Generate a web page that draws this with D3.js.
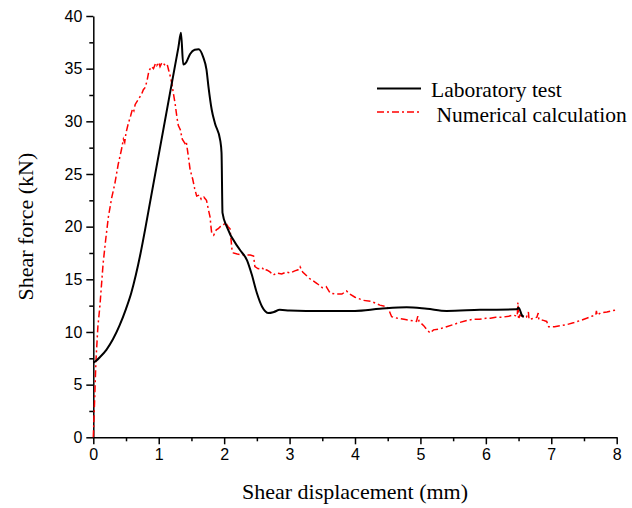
<!DOCTYPE html>
<html>
<head>
<meta charset="utf-8">
<script src="https://cdn.jsdelivr.net/npm/d3@7"></script>
<style>
body { margin: 0; background: #fff; }
</style>
</head>
<body>
<script>
// laboratory test: [displacement mm, force kN]
var labX = [0, 0.05, 0.1, 0.2, 0.3, 0.4, 0.5, 0.58, 0.65, 0.72, 0.8, 0.87, 1.02, 1.17, 1.3, 1.34,
	1.375, 1.42, 1.48, 1.55, 1.61, 1.68, 1.73, 1.76, 1.81, 1.86, 1.94, 1.96, 1.975, 2.04, 2.24, 2.35,
	2.42, 2.5, 2.58, 2.68, 2.76, 2.85, 3.0, 3.5, 4.0, 4.38, 4.79, 5.1, 5.4, 5.91, 6.47, 6.5, 6.52, 6.55, 6.58];
var labY = [7.1, 7.3, 7.6, 8.3, 9.3, 10.6, 12.2, 13.7, 15.4, 17.4, 20.0, 22.4, 27.5, 32.6, 37.0, 38.4,
	35.4, 35.6, 36.4, 36.8, 36.85, 36.1, 34.9, 33.3, 31.1, 29.8, 28.2, 27.0, 21.3, 20.0, 17.8, 16.8,
	15.5, 13.7, 12.4, 11.8, 11.9, 12.1, 12.05, 12.0, 12.0, 12.2, 12.35, 12.2, 12.0, 12.1, 12.15, 12.3, 12.1, 11.6, 11.45];

// numerical calculation
var numX = [0, 0.02, 0.04, 0.07, 0.1, 0.15, 0.19, 0.23, 0.28, 0.33, 0.38, 0.43, 0.46, 0.48, 0.5, 0.535,
	0.57, 0.6, 0.62, 0.64, 0.7, 0.74, 0.765, 0.79, 0.82, 0.85, 0.89, 0.92, 0.95, 0.97, 1.0, 1.02, 1.05,
	1.07, 1.1, 1.13, 1.15, 1.18, 1.2, 1.22, 1.25, 1.28, 1.3, 1.33, 1.36, 1.4, 1.42, 1.45, 1.48, 1.52,
	1.55, 1.58, 1.62, 1.65, 1.69, 1.73, 1.76, 1.785, 1.8, 1.81, 1.84, 1.88, 1.91, 1.94, 1.98, 2.02,
	2.06, 2.09, 2.12, 2.14, 2.2, 2.3, 2.4, 2.45, 2.47, 2.52, 2.58, 2.62, 2.65, 2.7, 2.75, 2.8, 2.88,
	2.95, 3.01, 3.08, 3.13, 3.16, 3.2, 3.3, 3.42, 3.5, 3.56, 3.62, 3.7, 3.8, 3.87, 3.92, 4.0, 4.13,
	4.25, 4.38, 4.49, 4.51, 4.56, 4.65, 4.75, 4.85, 4.94, 4.96, 4.98, 5.05, 5.1, 5.15, 5.2, 5.3, 5.4,
	5.5, 5.6, 5.71, 5.8, 5.9, 6.0, 6.07, 6.15, 6.25, 6.35, 6.42, 6.48, 6.49, 6.5, 6.52, 6.57, 6.62,
	6.65, 6.66, 6.73, 6.78, 6.8, 6.81, 6.88, 6.93, 6.96, 7.05, 7.15, 7.24, 7.35, 7.45, 7.54, 7.62,
	7.68, 7.69, 7.7, 7.75, 7.85, 7.92, 8.0];
var numY = [0, 3.5, 7.2, 10.5, 12.4, 16.5, 18.8, 20.9, 22.7, 24.1, 25.9, 27.3, 28.3, 28.0, 28.9, 29.8,
	30.5, 31.2, 31.0, 31.6, 32.2, 32.6, 33.0, 33.2, 33.8, 34.8, 35.2, 35.0, 35.5, 35.3, 35.6, 35.2, 35.6,
	35.5, 35.3, 35.4, 34.9, 34.2, 33.6, 32.8, 31.7, 30.3, 29.6, 29.2, 28.3, 27.9, 28.1, 26.8, 25.4, 24.5,
	23.6, 22.9, 23.0, 22.6, 22.8, 22.5, 21.6, 20.9, 19.9, 19.4, 19.2, 19.7, 19.8, 20.0, 20.1, 20.4,
	20.0, 19.8, 17.8, 17.5, 17.4, 17.3, 17.3, 17.2, 16.2, 16.0, 16.1, 15.8, 15.9, 15.7, 15.4, 15.6, 15.5,
	15.7, 15.6, 15.8, 15.9, 16.2, 15.7, 15.1, 14.6, 14.2, 14.3, 13.7, 13.6, 13.6, 13.9, 13.6, 13.3, 13.0,
	12.9, 12.55, 12.4, 12.2, 11.45, 11.3, 11.2, 11.1, 11.0, 11.5, 11.0, 10.6, 10.2, 9.9, 10.2, 10.3, 10.5,
	10.7, 10.9, 11.1, 11.2, 11.2, 11.3, 11.3, 11.4, 11.4, 11.5, 11.6, 11.5, 12.8, 11.2, 11.6, 11.45, 11.4,
	11.9, 11.2, 11.3, 11.4, 11.8, 11.2, 11.1, 11.0, 10.5, 10.5, 10.6, 10.7, 10.9, 11.1, 11.3, 11.5,
	11.6, 12.0, 11.6, 11.8, 11.9, 12.0, 12.1];

var xTicks = [0, 1, 2, 3, 4, 5, 6, 7, 8];
var yTicks = [0, 5, 10, 15, 20, 25, 30, 35, 40];
var seriesNames = ['Laboratory test', ' Numerical calculation'];

var width = 632, height = 508;
var margin = {left: 93.3, right: 15.3, top: 16, bottom: 70.7};
var serif = 'Liberation Serif, Times New Roman, serif';

var svg = d3.select('body').append('svg').attr('width', width).attr('height', height);

var x = d3.scaleLinear().domain([0, 8]).range([margin.left, width - margin.right]);
var y = d3.scaleLinear().domain([0, 40]).range([height - margin.bottom, margin.top]);

/* minor ticks first, then the axes with labels */
var xMinor = d3.range(0, 8).map(function(i){ return i + 0.5; });
var yMinor = d3.range(0, 8).map(function(i){ return i * 5 + 2.5; });

svg.append('g').attr('transform', 'translate(0,' + y(0) + ')')
	.call(d3.axisBottom(x).tickValues(xMinor).tickSize(4).tickFormat(''))
	.call(function(g){ g.select('.domain').remove(); g.selectAll('line').attr('stroke-width', 1.5); });
svg.append('g').attr('transform', 'translate(' + x(0) + ',0)')
	.call(d3.axisLeft(y).tickValues(yMinor).tickSize(4).tickFormat(''))
	.call(function(g){ g.select('.domain').remove(); g.selectAll('line').attr('stroke-width', 1.5); });

var xAxis = svg.append('g').attr('transform', 'translate(0,' + y(0) + ')')
	.call(d3.axisBottom(x).tickValues(xTicks).tickSize(7).tickSizeOuter(0).tickPadding(4).tickFormat(d3.format('d')));
var yAxis = svg.append('g').attr('transform', 'translate(' + x(0) + ',0)')
	.call(d3.axisLeft(y).tickValues(yTicks).tickSize(7).tickSizeOuter(0).tickPadding(4).tickFormat(d3.format('d')));

[xAxis, yAxis].forEach(function(g){
	g.select('.domain').attr('stroke-width', 1.5);
	g.selectAll('line').attr('stroke-width', 1.5);
	g.selectAll('text').style('font-family', 'Liberation Sans, Arial, sans-serif').style('font-size', '16px').attr('fill', '#000');
});

/* axis titles */
svg.append('text').attr('x', (x(0) + x(8)) / 2).attr('y', 499)
	.attr('text-anchor', 'middle').style('font-family', serif).style('font-size', '22px')
	.text('Shear displacement (mm)');
svg.append('text').attr('transform', 'translate(33,' + ((y(0) + y(40)) / 2) + ') rotate(-90)')
	.attr('text-anchor', 'middle').style('font-family', serif).style('font-size', '22px')
	.text('Shear force (kN)');

/* curves */
var labData = labX.map(function(v, i){ return [v, labY[i]]; });
var numData = numX.map(function(v, i){ return [v, numY[i]]; });

svg.append('path').datum(numData)
	.attr('d', d3.line().x(function(d){ return x(d[0]); }).y(function(d){ return y(d[1]); }))
	.attr('fill', 'none').attr('stroke', 'red').attr('stroke-width', 1.5).attr('stroke-dasharray', '7,3,2,3');

svg.append('path').datum(labData)
	.attr('d', d3.line().curve(d3.curveMonotoneX).x(function(d){ return x(d[0]); }).y(function(d){ return y(d[1]); }))
	.attr('fill', 'none').attr('stroke', 'black').attr('stroke-width', 2);

/* legend */
var leg = svg.append('g');
leg.append('line').attr('x1', 377).attr('x2', 421).attr('y1', 88.5).attr('y2', 88.5).attr('stroke', 'black').attr('stroke-width', 2);
leg.append('line').attr('x1', 377).attr('x2', 421).attr('y1', 112).attr('y2', 112).attr('stroke', 'red').attr('stroke-width', 1.5).attr('stroke-dasharray', '7,3,2,3');
leg.selectAll('text').data(seriesNames).enter().append('text')
	.attr('x', 431).attr('y', function(d, i){ return 97 + i * 25; })
	.style('font-family', serif).style('font-size', '21.5px').style('white-space', 'pre')
	.text(function(d){ return d; });
</script>
</body>
</html>
